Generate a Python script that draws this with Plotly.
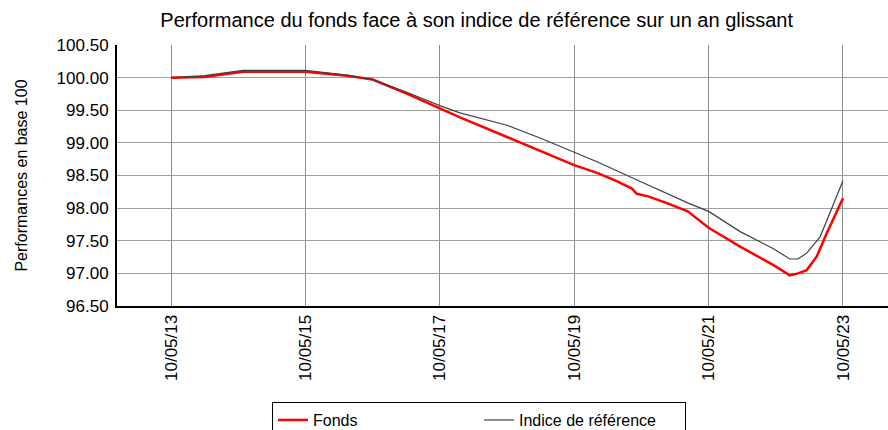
import plotly.graph_objects as go

# x positions in "year" units (13 -> 10/05/13 ... 23 -> 10/05/23)
x_fonds = [13.0, 13.5, 14.07, 15.0, 15.62, 16.0, 16.5, 17.0, 17.3, 18.0, 18.5, 19.0, 19.34,
           19.6, 19.86, 19.93, 20.1, 20.4, 20.69, 21.0, 21.47, 21.96, 22.21, 22.33, 22.46,
           22.61, 22.76, 23.0]
y_fonds = [100.00, 100.01, 100.09, 100.09, 100.03, 99.97, 99.76, 99.53, 99.39, 99.09, 98.87,
           98.66, 98.54, 98.43, 98.30, 98.22, 98.18, 98.07, 97.95, 97.70, 97.41, 97.13, 96.97,
           97.00, 97.05, 97.26, 97.62, 98.15]

x_indice = [13.0, 13.5, 14.07, 15.0, 15.62, 16.0, 16.5, 17.0, 17.3, 18.0, 18.5, 19.0, 19.34,
            20.0, 20.69, 21.0, 21.47, 21.96, 22.21, 22.33, 22.46, 22.66, 22.81, 23.0]
y_indice = [100.00, 100.03, 100.11, 100.11, 100.04, 99.97, 99.78, 99.57, 99.46, 99.27, 99.07,
            98.85, 98.71, 98.40, 98.08, 97.95, 97.64, 97.38, 97.22, 97.22, 97.31, 97.56,
            97.93, 98.42]

tick_vals = [13, 15, 17, 19, 21, 23]
tick_text = ["10/05/13", "10/05/15", "10/05/17", "10/05/19", "10/05/21", "10/05/23"]
y_ticks = [96.5, 97.0, 97.5, 98.0, 98.5, 99.0, 99.5, 100.0, 100.5]

fig = go.Figure()
fig.add_trace(go.Scatter(x=x_fonds, y=y_fonds, mode="lines", name="Fonds",
                         line=dict(color="#ff0000", width=2.5)))
fig.add_trace(go.Scatter(x=x_indice, y=y_indice, mode="lines", name="Indice de référence",
                         line=dict(color="#404040", width=1.2)))

fig.update_layout(
    width=888, height=430,
    margin=dict(l=117, r=0, t=45, b=124, autoexpand=False),
    paper_bgcolor="white", plot_bgcolor="white",
    font=dict(family="Liberation Sans, Arial, sans-serif", color="black", size=17),
    title=dict(text="Performance du fonds face à son indice de référence sur un an glissant",
               x=0.4665, xref="paper", xanchor="center", y=0.953, yanchor="middle",
               font=dict(size=20)),
    showlegend=True,
    legend=dict(orientation="h", x=(272 - 117) / 771, xanchor="left", y=-0.368, yanchor="top",
                bordercolor="black", borderwidth=1, bgcolor="white",
                entrywidth=161, entrywidthmode="pixels",
                font=dict(size=16), itemwidth=30),
)
fig.update_xaxes(range=[12.196, 23.67], tickvals=tick_vals, ticktext=tick_text,
                 tickangle=-90, showgrid=True, gridcolor="#8c8c8c", gridwidth=1,
                 showline=True, linecolor="black", linewidth=2, zeroline=False,
                 ticks="", automargin=False)
fig.update_yaxes(range=[96.5, 100.5], tickvals=y_ticks, tickformat=".2f",
                 showgrid=True, gridcolor="#a0a0a0", gridwidth=1,
                 showline=True, linecolor="black", linewidth=2, zeroline=False,
                 ticks="", automargin=False, ticklabelstandoff=3,
                 title=dict(text="Performances en base 100", font=dict(size=16), standoff=25))

fig.write_html("out.html", config={"displayModeBar": False},
               post_script="document.body.style.margin='0px';")
